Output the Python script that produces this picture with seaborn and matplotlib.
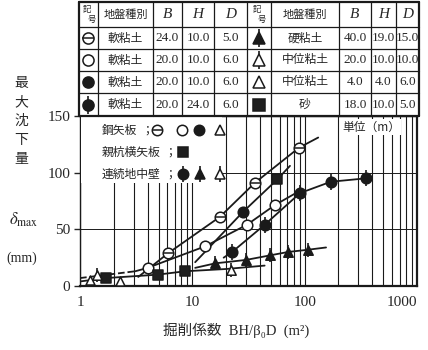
import matplotlib
matplotlib.use("Agg")
import matplotlib.pyplot as plt
import pandas as pd
import seaborn as sns
from matplotlib.patches import Rectangle

# ---- values ----
# steel sheet pile / soft clay B24 H10 D5  (circle with bar)
s24_x = [6.1, 17.6, 36, 89]
s24_y = [29, 61, 91, 122]
s24_cx = [3.3, 6.1, 17.6, 36, 89, 132]
s24_cy = [8, 29, 61, 91, 122, 131]
# steel sheet pile / soft clay B20 H10 D6  (open circle)
s20o_x = [4.0, 13, 30.6, 54.5]
s20o_y = [16, 35, 54, 71.5]
s20o_cx = [3.1, 4.0, 13, 30.6, 54.5, 87]
s20o_cy = [13, 16, 35, 54, 71.5, 83]
s20o_dx = [1.0, 3.1]
s20o_dy = [7, 13]
# steel sheet pile / soft clay B20 H10 D6  (filled circle)
s20f_x = [28]
s20f_y = [65]
s20f_cx = [10.6, 28, 57, 74]
s20f_cy = [21, 65, 94, 106]
# steel sheet pile / medium clay B4 H4 D6  (open triangle)
m4_x = [1.23, 2.27]
m4_y = [5, 4]
# soldier pile / sand  (square)
sand_x = [1.7, 4.9, 8.6, 57]
sand_y = [7, 10, 13, 94]
sand_cx = [1.0, 1.7, 4.9, 8.6, 20, 44]
sand_cy = [4, 7, 10, 13, 15, 18]
# diaphragm wall / soft clay B20 H24 D6  (filled circle with bar)
w24_x = [22.6, 44, 91, 171, 352]
w24_y = [30, 54, 82, 92, 95]
w24_cx = [19, 22.6, 44, 91, 171, 352]
w24_cy = [25, 30, 54, 82, 92, 95]
# diaphragm wall / stiff clay B40 H19 D15  (filled triangle)
w40_x = [16, 30, 49, 71, 107]
w40_y = [20, 23, 27, 30, 32]
w40_cx = [10.6, 16, 30, 49, 71, 107, 155]
w40_cy = [16, 20, 23, 27, 30, 32, 34]
# diaphragm wall / medium clay B20 H10 D10  (open triangle with stem)
w20_x = [1.42, 22]
w20_y = [10, 14]

# table
left_sym = ["theta", "open", "filled", "phi"]
left_soil = ["軟粘土", "軟粘土", "軟粘土", "軟粘土"]
left_B = [24.0, 20.0, 20.0, 20.0]
left_H = [10.0, 10.0, 10.0, 24.0]
left_D = [5.0, 6.0, 6.0, 6.0]
right_sym = ["tri_f_stem", "tri_o_stem", "tri_o", "sq"]
right_soil = ["硬粘土", "中位粘土", "中位粘土", "砂"]
right_B = [40.0, 20.0, 4.0, 18.0]
right_H = [19.0, 10.0, 4.0, 10.0]
right_D = [15.0, 10.0, 6.0, 5.0]

x_ticks = [1, 10, 100, 1000]
y_ticks = [0, 50, 100, 150]

sns.set_theme(style="white")
plt.rcParams["font.family"] = ["Liberation Serif", "Noto Sans CJK JP", "DejaVu Sans"]
plt.rcParams["mathtext.fontset"] = "stix"

BASE = {"theta": ("o", "w"), "open": ("o", "w"), "filled": ("o", "k"),
        "phi": ("o", "k"), "tri_f_stem": ("^", "k"), "tri_o_stem": ("^", "w"),
        "tri_o": ("^", "w"), "sq": ("s", "0.12")}


def draw_points(ax, xs, ys, kind, s=58):
    d = pd.DataFrame({"x": xs, "y": ys})
    if kind in ("phi", "tri_f_stem", "tri_o_stem"):
        sns.scatterplot(data=d, x="x", y="y", marker="|", s=s * 2.4, color="k",
                        edgecolor="k", linewidth=1.2, ax=ax, zorder=4, legend=False)
    m, fc = BASE[kind]
    sns.scatterplot(data=d, x="x", y="y", marker=m, s=s, color=fc, edgecolor="k",
                    linewidth=1.1, ax=ax, zorder=5, legend=False)
    if kind == "theta":
        sns.scatterplot(data=d, x="x", y="y", marker="_", s=s, color="k",
                        edgecolor="k", linewidth=1.1, ax=ax, zorder=6, legend=False)


def sym(ax, x, y, kind, ms=8):
    # symbols used in the table / legend (pixel coordinates)
    if kind in ("phi", "tri_f_stem", "tri_o_stem"):
        ax.plot([x], [y], marker="|", ms=ms * 1.55, mew=1.2, color="k")
    m, fc = BASE[kind]
    ax.plot([x], [y], marker=m, ms=ms, mfc=fc, mec="k", mew=1.1, color="k")
    if kind == "theta":
        ax.plot([x], [y], marker="_", ms=ms, mew=1.1, color="k")


fig = plt.figure(figsize=(4.28, 3.5), dpi=100)
ax = fig.add_axes([80 / 428, 1 - 286 / 350, 337 / 428, 170 / 350])
ax.set_xscale("log")

line_kw = dict(color="k", linewidth=1.3, estimator=None, sort=False, ax=ax, legend=False)
for cx, cy in [(s24_cx, s24_cy), (s20o_cx, s20o_cy), (s20f_cx, s20f_cy),
               (sand_cx, sand_cy), (w24_cx, w24_cy), (w40_cx, w40_cy)]:
    sns.lineplot(x=cx, y=cy, **line_kw)
sns.lineplot(x=s20o_dx, y=s20o_dy, linestyle="--", **line_kw)

draw_points(ax, s24_x, s24_y, "theta")
draw_points(ax, s20o_x, s20o_y, "open")
draw_points(ax, s20f_x, s20f_y, "filled")
draw_points(ax, m4_x, m4_y, "tri_o", s=42)
draw_points(ax, sand_x, sand_y, "sq", s=42)
draw_points(ax, w24_x, w24_y, "phi")
draw_points(ax, w40_x, w40_y, "tri_f_stem", s=46)
draw_points(ax, w20_x, w20_y, "tri_o_stem", s=46)

ax.set_xlim(1, 1000)
ax.set_ylim(0, 150)
ax.set_xticks(x_ticks)
ax.set_xticklabels([str(t) for t in x_ticks])
ax.get_xticklabels()[-1].set_horizontalalignment("right")
ax.set_yticks(y_ticks)
ax.set_yticklabels([str(t) for t in y_ticks])
ax.grid(True, which="both", axis="x", color="k", linewidth=0.8)
ax.grid(True, which="major", axis="y", color="k", linewidth=0.7)
ax.tick_params(axis="x", which="both", direction="in", length=0, pad=7, labelsize=11)
ax.tick_params(axis="y", direction="out", length=4, width=1, pad=3, labelsize=11, left=True)
for side, sp in ax.spines.items():
    sp.set_color("k")
    sp.set_linewidth(1.6 if side in ("right", "bottom") else 1.0)
ax.set_xlabel("")
ax.set_ylabel("")

# overlay in pixel coordinates for table, legend and labels
ov = fig.add_axes([0, 0, 1, 1])
ov.set_xlim(0, 428)
ov.set_ylim(350, 0)
ov.axis("off")

ov.add_patch(Rectangle((81, 117), 141, 66, facecolor="w", edgecolor="none"))

# table
col_edges = [79, 98, 153, 182, 214, 247, 271, 339, 371, 396, 419]
row_edges = [2, 27, 49, 71, 93, 116]
ov.add_patch(Rectangle((79, 2), 340, 114, facecolor="w", edgecolor="none", zorder=1))
for i, xe in enumerate(col_edges):
    lw = 1.6 if i in (0, len(col_edges) - 1) else 0.9
    ov.plot([xe, xe], [2, 116], color="k", lw=lw, zorder=2)
for i, ye in enumerate(row_edges):
    lw = 1.6 if i in (0, len(row_edges) - 1) else 0.9
    ov.plot([79, 419], [ye, ye], color="k", lw=lw, zorder=2)

cc = [(col_edges[i] + col_edges[i + 1]) / 2 for i in range(len(col_edges) - 1)]
rc = [(row_edges[i] + row_edges[i + 1]) / 2 for i in range(len(row_edges) - 1)]

cjk = ["Noto Sans CJK JP", "DejaVu Sans"]
for k in (0, 5):
    ov.text(cc[k] - 2, rc[0] - 5, "記", fontsize=6, ha="center", va="center", family=cjk)
    ov.text(cc[k] + 3, rc[0] + 5, "号", fontsize=6, ha="center", va="center", family=cjk)
for k in (1, 6):
    ov.text(cc[k], rc[0], "地盤種別", fontsize=8, ha="center", va="center", family=cjk)
for k, h in zip((2, 3, 4, 7, 8, 9), "BHDBHD"):
    ov.text(cc[k], rc[0], h, fontsize=11, ha="center", va="center", style="italic",
            family="Liberation Serif")

num_font = dict(fontsize=9.5, ha="center", va="center", family="Liberation Serif")
for r in range(4):
    y = rc[r + 1]
    sym(ov, cc[0], y, left_sym[r])
    ov.text(cc[1], y, left_soil[r], fontsize=8.5, ha="center", va="center", family=cjk)
    ov.text(cc[2], y, f"{left_B[r]:.1f}", **num_font)
    ov.text(cc[3], y, f"{left_H[r]:.1f}", **num_font)
    ov.text(cc[4], y, f"{left_D[r]:.1f}", **num_font)
    sym(ov, cc[5], y, right_sym[r])
    ov.text(cc[6], y, right_soil[r], fontsize=8.5, ha="center", va="center", family=cjk,
            style="italic" if right_soil[r] == "砂" else "normal")
    ov.text(cc[7], y, f"{right_B[r]:.1f}", **num_font)
    ov.text(cc[8], y, f"{right_H[r]:.1f}", **num_font)
    ov.text(cc[9], y, f"{right_D[r]:.1f}", **num_font)

# legend inside the plot
leg_rows = [("鋼矢板", 130, [(157, "theta"), (182, "open"), (199, "filled"), (220, "tri_o")]),
            ("親杭横矢板", 152, [(183, "sq")]),
            ("連続地中壁", 174, [(183, "phi"), (200, "tri_f_stem"), (220, "tri_o_stem")])]
for label, y, items in leg_rows:
    semi_x = 147 if len(label) == 3 else 170
    ov.text(102, y, label, fontsize=8.5, ha="left", va="center", family=cjk)
    ov.text(semi_x, y, "；", fontsize=8.5, ha="center", va="center", family=cjk)
    for x, k in items:
        sym(ov, x, y, k, ms=7.5)

ov.text(371, 127, "単位（m）", fontsize=8.5, ha="center", va="center", family=cjk,
        bbox=dict(facecolor="w", edgecolor="none", pad=1))

# axis labels
ov.text(21, 121, "最\n大\n沈\n下\n量", fontsize=10, ha="center", va="center",
        linespacing=1.45, family=cjk)
ov.text(24, 220, r"$\delta_{\rm max}$", fontsize=12, ha="center", va="center")
ov.text(22, 258, "(mm)", fontsize=10, ha="center", va="center")
ov.text(236, 330, "掘削係数  BH/β₀D  (m²)", fontsize=10.5, ha="center", va="center")

fig.savefig("out.png", dpi=100)
